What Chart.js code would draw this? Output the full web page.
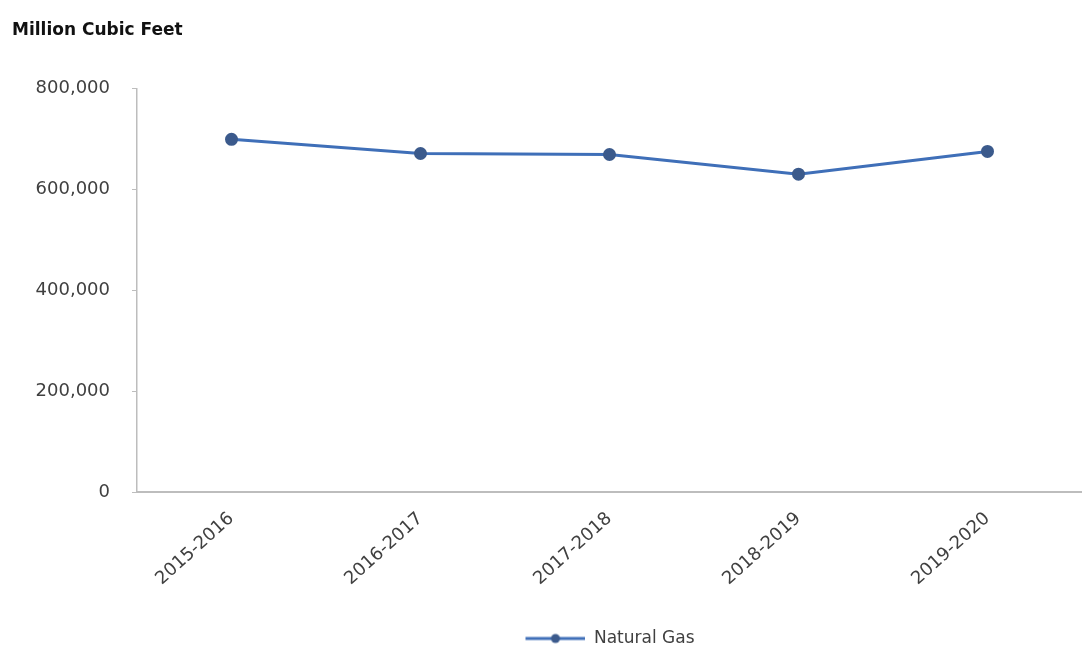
<!DOCTYPE html>
<html>
<head>
    <title>Natural Gas</title>
    <script src="https://cdn.jsdelivr.net/npm/chart.js"></script>
    <style>
        html, body { margin: 0; padding: 0; background: #fff; }
        #wrap { width: 1082px; height: 657px; }
    </style>
</head>
<body>
    <div id="wrap"><canvas id="myChart"></canvas></div>
    <script>
        // data
        var years = ['2015-2016', '2016-2017', '2017-2018', '2018-2019', '2019-2020'];
        var naturalGas = [699000, 671000, 669000, 630000, 675000];
        var yTicks = [0, 200000, 400000, 600000, 800000];

        var lineColor = '#3f6fb8';
        var markerColor = '#3b5a8c';
        var fontName = '"DejaVu Sans", sans-serif';

        // legend sample: short line with a dot, sitting at the right of a wider
        // blank box so the legend lands right of centre like in the picture
        var sampleW = 186;
        var sample = document.createElement('canvas');
        sample.width = sampleW;
        sample.height = 12;
        var sctx = sample.getContext('2d');
        sctx.strokeStyle = lineColor;
        sctx.lineWidth = 3;
        sctx.beginPath();
        sctx.moveTo(sampleW - 60, 6);
        sctx.lineTo(sampleW, 6);
        sctx.stroke();
        sctx.fillStyle = markerColor;
        sctx.beginPath();
        sctx.arc(sampleW - 30, 6, 4.5, 0, Math.PI * 2);
        sctx.fill();

        var ctx = document.getElementById('myChart').getContext('2d');
        var myChart = new Chart(ctx, {
            type: 'line',
            data: {
                labels: years,
                datasets: [{
                    label: 'Natural Gas',
                    data: naturalGas,
                    borderColor: lineColor,
                    borderWidth: 3,
                    pointRadius: 5,
                    pointBackgroundColor: markerColor,
                    pointBorderColor: markerColor,
                    fill: false,
                    tension: 0
                }]
            },
            options: {
                responsive: true,
                maintainAspectRatio: false,
                animation: false,
                layout: { autoPadding: false, padding: { left: 12, right: 0, top: 0, bottom: 0 } },
                plugins: {
                    title: {
                        display: true,
                        text: 'Million Cubic Feet',
                        align: 'start',
                        color: '#111',
                        font: { family: fontName, size: 17, weight: 'bold' },
                        padding: { top: 20, bottom: 48 }
                    },
                    legend: {
                        position: 'bottom',
                        labels: {
                            usePointStyle: true,
                            pointStyleWidth: sampleW,
                            padding: 10,
                            color: '#404040',
                            font: { family: fontName, size: 17 },
                            generateLabels: function (chart) {
                                return chart.data.datasets.map(function (ds, i) {
                                    return {
                                        text: ds.label,
                                        pointStyle: sample,
                                        fillStyle: lineColor,
                                        strokeStyle: lineColor,
                                        fontColor: '#404040',
                                        datasetIndex: i
                                    };
                                });
                            }
                        }
                    },
                    tooltip: { enabled: false }
                },
                scales: {
                    x: {
                        offset: true,
                        afterFit: function (scale) {
                            scale.height = 128;
                            scale.paddingRight = 0;
                        },
                        grid: { display: true, drawOnChartArea: false, drawTicks: false },
                        border: { color: '#bdbdbd', width: 2 },
                        ticks: {
                            color: '#404040',
                            font: { family: fontName, size: 18 },
                            minRotation: 42,
                            maxRotation: 42,
                            padding: 16
                        }
                    },
                    y: {
                        min: 0,
                        max: 800000,
                        afterBuildTicks: function (scale) {
                            scale.ticks = yTicks.map(function (v) { return { value: v }; });
                        },
                        afterFit: function (scale) { scale.width = 125; },
                        grid: { display: true, drawOnChartArea: false, tickLength: 5, color: '#bdbdbd' },
                        border: { color: '#bdbdbd', width: 1.5 },
                        ticks: {
                            color: '#404040',
                            font: { family: fontName, size: 18 },
                            padding: 22,
                            callback: function (v) { return v.toLocaleString('en-US'); }
                        }
                    }
                }
            }
        });
    </script>
</body>
</html>
